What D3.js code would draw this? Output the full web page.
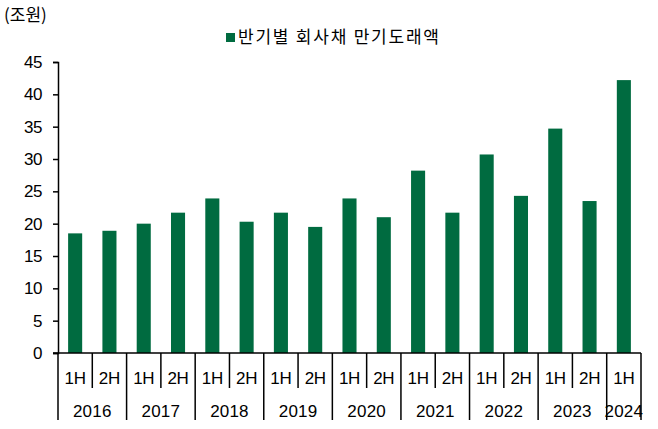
<!DOCTYPE html>
<html>
<head>
<meta charset="utf-8">
<script src="https://cdn.jsdelivr.net/npm/d3@7"></script>
<style>
  body { margin: 0; background: #fff; }
  text { font-family: "Liberation Sans", Arial, sans-serif; }
</style>
</head>
<body>
<div id="chart"></div>
<script>
// data
let halves = ["1H","2H","1H","2H","1H","2H","1H","2H","1H","2H","1H","2H","1H","2H","1H","2H","1H"];
let years = ["2016","2017","2018","2019","2020","2021","2022","2023","2024"];
let values = [18.5, 18.9, 20.0, 21.7, 23.9, 20.3, 21.7, 19.5, 23.9, 21.0, 28.2, 21.7, 30.7, 24.3, 34.7, 23.5, 42.2];
let yTicks = [0, 5, 10, 15, 20, 25, 30, 35, 40, 45];
let seriesName = "반기별 회사채 만기도래액";
let unitLabel = "(조원)";

let W = 658, H = 429;
let margin = {top: 62, right: 17, bottom: 76, left: 58},
  width = W - margin.left - margin.right,
  height = H - margin.top - margin.bottom;

let svg = d3.select("#chart")
  .append("svg")
  .attr("width", W)
  .attr("height", H)
  .append("g")
  .attr("transform", "translate(" + margin.left + "," + margin.top + ")");

let idx = d3.range(values.length);

let x = d3.scaleBand()
  .domain(idx)
  .range([0, width])
  .paddingInner(0.59)
  .paddingOuter(0.295);

let y = d3.scaleLinear()
  .domain([0, 45])
  .range([height, 0]);

// y axis
let yAxis = svg.append("g")
  .call(d3.axisLeft(y).tickValues(yTicks).tickSize(5).tickPadding(11));
yAxis.select(".domain").attr("stroke", "#000").attr("stroke-width", 1.5);
yAxis.selectAll(".tick line").attr("stroke", "#000").attr("stroke-width", 1.5);
yAxis.selectAll(".tick text")
  .attr("font-size", 17)
  .attr("letter-spacing", "-0.4px")
  .attr("fill", "#000");

// bars
svg.append("g")
  .selectAll("rect")
  .data(values)
  .enter()
  .append("rect")
    .attr("x", function(d, i){ return x(i); })
    .attr("y", function(d){ return y(d); })
    .attr("width", x.bandwidth())
    .attr("height", function(d){ return height - y(d); })
    .attr("fill", "#006b40");

// x axis line
let step = x.step();
function edge(i){ return x(i) - (step - x.bandwidth()) / 2; }

svg.append("line")
  .attr("x1", -5).attr("x2", width)
  .attr("y1", height).attr("y2", height)
  .attr("stroke", "#000").attr("stroke-width", 1.5);

// category separators: year boundaries long, half boundaries short
let axisG = svg.append("g");
for (let i = 0; i <= values.length; i++) {
  let xx = i < values.length ? edge(i) : width;
  let longLine = (i % 2 === 0) || i === values.length;
  axisG.append("line")
    .attr("x1", xx).attr("x2", xx)
    .attr("y1", height)
    .attr("y2", height + (longLine ? 67 : 35))
    .attr("stroke", "#000").attr("stroke-width", 1.5);
}

// half labels
axisG.selectAll(".half")
  .data(halves)
  .enter()
  .append("text")
    .attr("x", function(d, i){ return x(i) + x.bandwidth() / 2; })
    .attr("y", height + 31)
    .attr("text-anchor", "middle")
    .attr("font-size", 17)
    .attr("letter-spacing", "-0.3px")
    .text(function(d){ return d; });

// year labels
axisG.selectAll(".year")
  .data(years)
  .enter()
  .append("text")
    .attr("x", function(d, i){
      let a = i * 2, b = Math.min(i * 2 + 1, values.length - 1);
      return (x(a) + x(b) + x.bandwidth()) / 2;
    })
    .attr("y", height + 64)
    .attr("text-anchor", "middle")
    .attr("font-size", 17)
    .attr("letter-spacing", "0.2px")
    .text(function(d){ return d; });

// unit label
d3.select("svg").append("text")
  .attr("x", 4).attr("y", 21)
  .attr("font-size", 17)
  .style("font-family", "'Noto Sans CJK KR', sans-serif")
  .text(unitLabel);

// legend
let legend = d3.select("svg").append("g");
legend.append("rect")
  .attr("x", 226).attr("y", 33)
  .attr("width", 9).attr("height", 9)
  .attr("fill", "#006b40");
legend.append("text")
  .attr("x", 238).attr("y", 43)
  .attr("font-size", 17)
  .attr("textLength", 201)
  .attr("lengthAdjust", "spacing")
  .style("font-family", "'Noto Sans CJK KR', sans-serif")
  .text(seriesName);
</script>
</body>
</html>
